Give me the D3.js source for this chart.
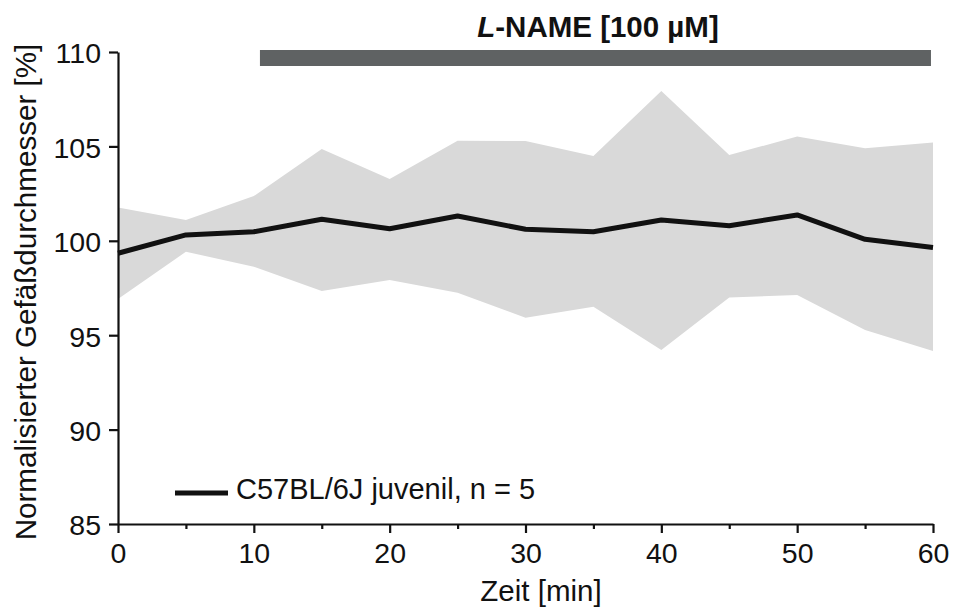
<!DOCTYPE html>
<html><head><meta charset="utf-8">
<script src="https://cdn.jsdelivr.net/npm/d3@7"></script>
<style>
html,body{margin:0;padding:0;background:#fff;}
text{font-family:"Liberation Sans",Arial,sans-serif;fill:#111;}
</style></head>
<body>
<svg id="c" width="955" height="608"></svg>
<script>
const times = [0,5,10,15,20,25,30,35,40,45,50,55,60];
const meanVals = [99.34,100.31,100.48,101.14,100.64,101.31,100.61,100.48,101.1,100.8,101.37,100.08,99.65];
const upperVals = [101.77,101.1,102.37,104.86,103.27,105.3,105.29,104.49,107.93,104.54,105.52,104.9,105.2];
const lowerVals = [96.92,99.42,98.63,97.34,97.92,97.25,95.93,96.51,94.22,97.0,97.13,95.28,94.16];
const xTicks = [0,10,20,30,40,50,60];
const xMinor = [5,15,25,35,45,55];
const yTicks = [85,90,95,100,105,110];
const treatment = {label:"L-NAME [100 µM]", start:10.45, end:59.85};
const legendLabel = "C57BL/6J juvenil, n = 5";

const svg = d3.select("#c");
const x = d3.scaleLinear().domain([0,60]).range([118,933]);
const y = d3.scaleLinear().domain([85,110]).range([524,52]);

const data = times.map((t,i)=>({t, m:meanVals[i], hi:upperVals[i], lo:lowerVals[i]}));

// band
svg.append("path").datum(data)
  .attr("d", d3.area().x(d=>x(d.t)).y0(d=>y(d.lo)).y1(d=>y(d.hi)))
  .attr("fill","#d9d9d9");

// mean line
svg.append("path").datum(data)
  .attr("d", d3.line().x(d=>x(d.t)).y(d=>y(d.m)))
  .attr("fill","none").attr("stroke","#111").attr("stroke-width",5)
  .attr("stroke-linejoin","round");

// axes
const yAxis = svg.append("g").attr("transform","translate(118,0)")
  .call(d3.axisLeft(y).tickValues(yTicks).tickSize(9).tickPadding(8).tickSizeOuter(0));
yAxis.selectAll("text").style("font-size","28.5px").attr("dy","0.38em");

const xAxis = svg.append("g").attr("transform","translate(0,524)")
  .call(d3.axisBottom(x).tickValues(xTicks).tickSize(9).tickPadding(10).tickSizeOuter(0));
xAxis.selectAll("text").style("font-size","28.5px");
svg.append("g").attr("transform","translate(0,524)")
  .call(d3.axisBottom(x).tickValues(xMinor).tickSize(5).tickFormat("").tickSizeOuter(0))
  .select(".domain").remove();
svg.selectAll(".domain, .tick line").attr("stroke","#111").attr("stroke-width",2.2);
svg.selectAll(".tick text").attr("fill","#111").style("font-family","'Liberation Sans',Arial,sans-serif");

// axis titles
svg.append("text").attr("x",541).attr("y",601).attr("text-anchor","middle")
  .style("font-size","29.5px").text("Zeit [min]");
svg.append("text").attr("transform","translate(36,292) rotate(-90)").attr("text-anchor","middle")
  .style("font-size","29.6px").text("Normalisierter Gefäßdurchmesser [%]");

// treatment bar
svg.append("rect").attr("x",x(treatment.start)).attr("width",x(treatment.end)-x(treatment.start))
  .attr("y",50).attr("height",16).attr("fill","#5f6263");
const tt = svg.append("text").attr("x",598).attr("y",37).attr("text-anchor","middle")
  .style("font-size","29.5px").style("font-weight","bold");
tt.append("tspan").style("font-style","italic").text(treatment.label.slice(0,1));
tt.append("tspan").text(treatment.label.slice(1));

// legend
svg.append("line").attr("x1",175).attr("x2",228).attr("y1",493).attr("y2",493)
  .attr("stroke","#111").attr("stroke-width",5);
svg.append("text").attr("x",236).attr("y",499).style("font-size","29px").text(legendLabel);
</script>
</body></html>
